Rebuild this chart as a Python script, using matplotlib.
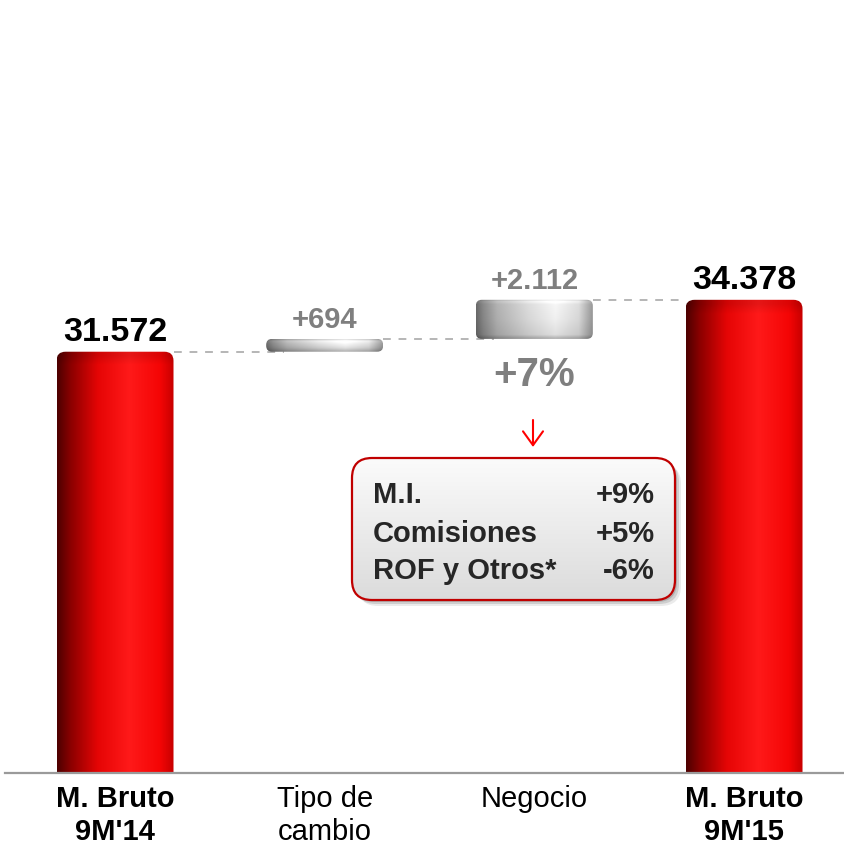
import numpy as np
import matplotlib
matplotlib.use("Agg")
import matplotlib.pyplot as plt
from matplotlib.patches import FancyBboxPatch
from matplotlib.lines import Line2D

plt.rcParams['font.family'] = ['Liberation Sans', 'DejaVu Sans']

# ---------------- data ----------------
categories = ["M. Bruto\n9M'14", "Tipo de\ncambio", "Negocio", "M. Bruto\n9M'15"]
values = [31572, 694, 2112, 34378]
kinds = ["total", "delta", "delta", "total"]
growth_label = "+7%"
breakdown_items = ["M.I.", "Comisiones", "ROF y Otros*"]
breakdown_values = ["+9%", "+5%", "-6%"]

# ---------------- figure ----------------
W, H = 844, 851
DPI = 100
fig = plt.figure(figsize=(W / DPI, H / DPI), dpi=DPI)
base_px = 773  # baseline (pixels from top)
ax = fig.add_axes([0, (H - base_px) / H, 1, base_px / H])
ax.axis('off')

px_per_x = 209.67
px_per_y = 0.0185
xlo = -115 / px_per_x
xhi = xlo + W / px_per_x
ylo = 8800
yhi = ylo + base_px / px_per_y
ax.set_xlim(xlo, xhi)
ax.set_ylim(ylo, yhi)

aspect = (1 / px_per_y) / (1 / px_per_x)
bw = 117 / px_per_x


def fmt(v, sign=False):
    s = f"{v:,}".replace(",", ".")
    return ("+" + s) if sign else s


def gradient_image(stops, n=256):
    xs = np.linspace(0, 1, n)
    pos = [s[0] for s in stops]
    cols = np.array([s[1] for s in stops])
    img = np.zeros((1, n, 3))
    for c in range(3):
        img[0, :, c] = np.interp(xs, pos, cols[:, c])
    return img


red_stops = [(0.0, (0.30, 0.0, 0.0)), (0.12, (0.55, 0.0, 0.0)), (0.35, (0.90, 0.02, 0.02)),
             (0.62, (1.0, 0.10, 0.10)), (0.88, (0.96, 0.02, 0.02)), (1.0, (0.78, 0.0, 0.0))]
gray_stops = [(0.0, (0.40, 0.40, 0.40)), (0.06, (0.52, 0.52, 0.52)), (0.18, (0.68, 0.68, 0.68)),
              (0.45, (0.84, 0.84, 0.84)), (0.68, (0.94, 0.94, 0.94)), (0.88, (0.84, 0.84, 0.84)),
              (1.0, (0.58, 0.58, 0.58))]


def draw_bar(x, bottom, top, stops, rpx, vshade=False):
    r = rpx / px_per_x
    patch = FancyBboxPatch((x - bw / 2, bottom), bw, top - bottom,
                           boxstyle=f"round,pad=0,rounding_size={r}",
                           mutation_aspect=aspect, fc='none', ec='none',
                           transform=ax.transData)
    ax.add_patch(patch)
    img = gradient_image(stops)
    nv = 64
    vy = np.linspace(0, 1, nv)  # 0 top -> 1 bottom
    hpx = (top - bottom) * px_per_y
    d = vy * hpx
    if vshade:
        f = np.interp(d, [0, 2, 5, hpx * 0.5, hpx - 4, hpx],
                      [0.92, 1.12, 1.03, 1.0, 0.93, 0.72])
    else:
        f = np.interp(d, [0, 3, 8, 14, 1e6], [0.9, 1.08, 1.0, 1.0, 1.0])
    img = np.clip(img * f[:, None, None], 0, 1)
    im = ax.imshow(img, extent=[x - bw / 2, x + bw / 2, bottom, top], aspect='auto',
                   interpolation='bilinear', origin='upper', zorder=3)
    im.set_clip_path(patch)


running = 0
tops = []
gap_px = 11
for i, (v, k) in enumerate(zip(values, kinds)):
    if k == "total":
        bottom, top = 0, v
        running = v
        draw_bar(i, bottom, top, red_stops, 9)
        ax.annotate(fmt(v), xy=(i, top), xytext=(0, gap_px * 72 / DPI), textcoords='offset points',
                    ha='center', va='baseline', fontsize=24.5, fontweight='bold', color='black',
                    zorder=5)
    else:
        bottom, top = running, running + v
        running = top
        draw_bar(i, bottom, top, gray_stops, 6, vshade=True)
        ax.annotate(fmt(v, sign=True), xy=(i, top), xytext=(0, gap_px * 72 / DPI),
                    textcoords='offset points', ha='center', va='baseline', fontsize=21,
                    fontweight='bold', color='#7f7f7f', zorder=5)
    tops.append(top)

# dashed connectors
for i in range(len(values) - 1):
    x_end = i + 1 - bw / 2 + (18 / px_per_x if kinds[i + 1] == "delta" else 0)
    ax.plot([i + bw / 2, x_end], [tops[i], tops[i]], ls=(0, (4, 4)),
            color='#b5b5b5', lw=1.4, zorder=2)

# growth label under Negocio
ax.annotate(growth_label, xy=(2, tops[1]), xytext=(0, -36 * 72 / DPI), textcoords='offset points',
            ha='center', va='center', fontsize=29, fontweight='bold', color='#7f7f7f', zorder=5)

# x labels
for i, lab in enumerate(categories):
    bold = kinds[i] == "total"
    ax.annotate(lab, xy=(i, ylo), xytext=(0, -12 * 72 / DPI), textcoords='offset points',
                ha='center', va='top', fontsize=21, fontweight='bold' if bold else 'normal',
                color='black', linespacing=1.22, annotation_clip=False)

# baseline
fig.add_artist(Line2D([5 / W, 1], [(H - base_px) / H] * 2, color='#9a9a9a', lw=1.6,
                      transform=fig.transFigure, zorder=6))


# ---------------- breakdown box ----------------
def fx(px):
    return px / W


def fy(py):
    return (H - py) / H


bx0, bx1, by0, by1 = 352, 675, 458, 600
for off, a in [(6, 0.08), (4, 0.12), (2, 0.15)]:
    sh = FancyBboxPatch((fx(bx0 + off), fy(by1 + off)), fx(bx1 - bx0), (by1 - by0) / H,
                        boxstyle=f"round,pad=0,rounding_size={20 / W}", mutation_aspect=W / H,
                        transform=fig.transFigure, fc='black', ec='none', alpha=a, zorder=7)
    fig.add_artist(sh)
box = FancyBboxPatch((fx(bx0), fy(by1)), fx(bx1 - bx0), (by1 - by0) / H,
                     boxstyle=f"round,pad=0,rounding_size={20 / W}", mutation_aspect=W / H,
                     transform=fig.transFigure, fc='none', ec='#c00000', lw=1.6, zorder=9)
fig.add_artist(box)
bg = fig.add_axes([fx(bx0), fy(by1), fx(bx1 - bx0), (by1 - by0) / H], zorder=8)
bg.axis('off')
grad = np.linspace(0.985, 0.86, 100)[:, None] * np.ones((1, 2))
bg.imshow(np.dstack([grad] * 3), aspect='auto', extent=[0, 1, 0, 1], origin='upper',
          interpolation='bilinear')
clip = FancyBboxPatch((fx(bx0), fy(by1)), fx(bx1 - bx0), (by1 - by0) / H,
                      boxstyle=f"round,pad=0,rounding_size={20 / W}", mutation_aspect=W / H,
                      transform=fig.transFigure, fc='none', ec='none')
bg.images[0].set_clip_path(clip)
bg.set_xlim(0, 1)
bg.set_ylim(0, 1)

row_base = [503, 541.5, 579]
for name, val, yb in zip(breakdown_items, breakdown_values, row_base):
    fig.text(fx(373), fy(yb), name, ha='left', va='baseline', fontsize=21, fontweight='bold',
             color='#262626', zorder=10)
    fig.text(fx(655), fy(yb), val, ha='right', va='baseline', fontsize=21, fontweight='bold',
             color='#262626', zorder=10)

# arrow
fig.add_artist(matplotlib.patches.FancyArrowPatch(
    (fx(533), fy(420)), (fx(533), fy(447)), transform=fig.transFigure,
    arrowstyle='->,head_length=0.5,head_width=0.36', mutation_scale=20,
    color='#ff0000', lw=1.5, shrinkA=0, shrinkB=0, zorder=10))

fig.savefig('out.png', dpi=DPI)
